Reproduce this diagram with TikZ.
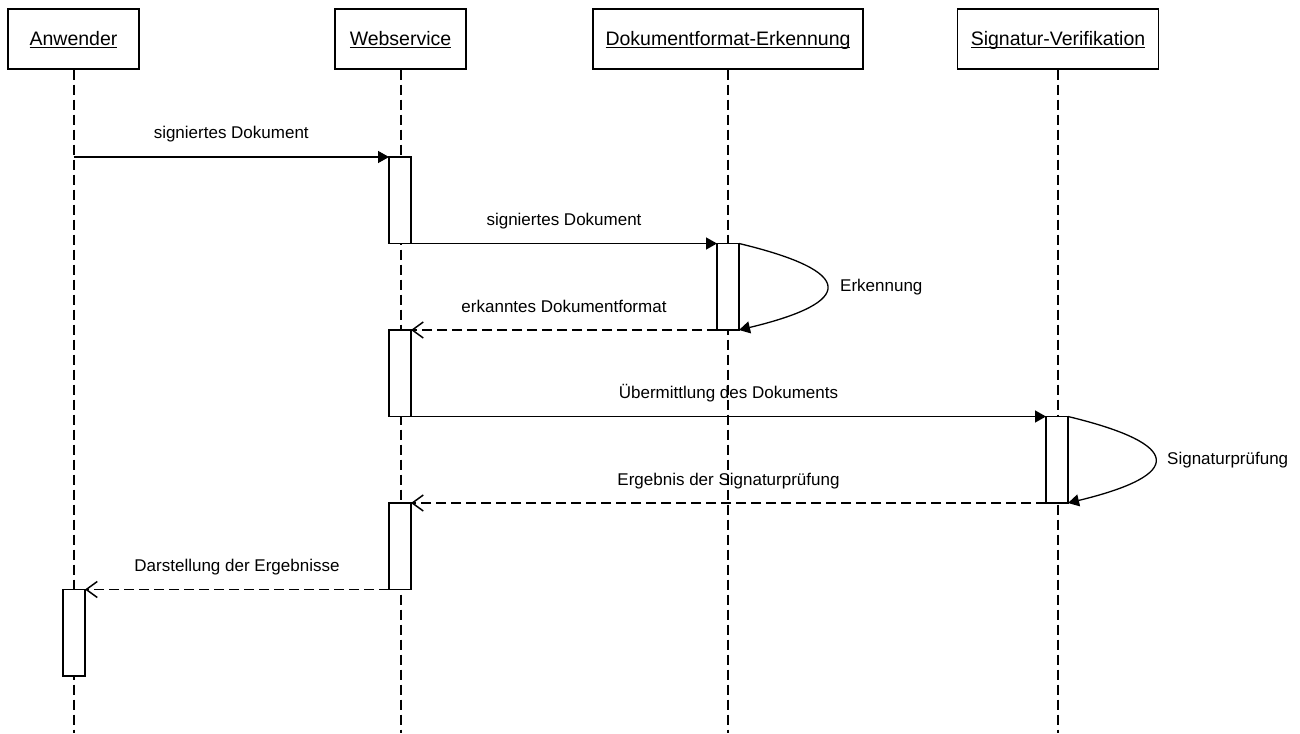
\documentclass[tikz,border=0pt]{standalone}
\usepackage{fontspec}
\setmainfont{Liberation Sans}
\usetikzlibrary{arrows.meta}
\newcommand{\ultext}[1]{\setbox0\hbox{#1}\rlap{\rule[-2.5pt]{\wd0}{1pt}}\box0}

\begin{document}
\begin{tikzpicture}[x=1pt,y=-1pt]
\tikzstyle{every node}+=[inner sep=0pt]
\tikzstyle{head}=[draw=black, line width=1.3pt, fill=white, minimum height=60pt, text height=14pt, text depth=0pt, font=\fontsize{19.5}{23}\selectfont]
\tikzstyle{act}=[draw=black, line width=1.3pt, fill=white, outer sep=0pt, minimum width=22pt, minimum height=86.5pt]
\tikzstyle{lifeline}=[black, line width=2pt, dash pattern=on 10pt off 5pt]
\tikzstyle{sync}=[black, line width=1.3pt, -{Triangle[length=11pt,width=12pt]}]
\tikzstyle{reply}=[black, line width=1.5pt, dash pattern=on 10pt off 5pt, -{Straight Barb[length=11pt,width=16pt]}]
\tikzstyle{msglabel}=[midway, anchor=base, yshift=18pt, font=\fontsize{17}{20}\selectfont]
\tikzstyle{looplabel}=[anchor=west, font=\fontsize{17}{20}\selectfont]
\useasboundingbox (0,0) rectangle (1300,733);

% objects
\node[head, minimum width=131pt] (anw) at (73.5,39) {\ultext{Anwender}};
\node[head, minimum width=131pt] (web) at (400.5,39) {\ultext{Webservice}};
\node[head, minimum width=270pt] (dok) at (728,39) {\ultext{Dokumentformat-Erkennung}};
\node[head, minimum width=201pt] (sig) at (1058,39) {\ultext{Signatur-Verifikation}};

% lifelines
\foreach \obj in {anw,web,dok,sig}
  \draw[lifeline] (\obj.south) -- (\obj.south |- 0,733);

% activations
\node[act] (w1) at (400,200.25) {};
\node[act] (d1) at (728,286.75) {};
\node[act] (w2) at (400,373.25) {};
\node[act] (s1) at (1057,459.75) {};
\node[act] (w3) at (400,546.25) {};
\node[act] (a1) at (74,632.75) {};

% messages
\draw[sync] (anw.south |- w1.north west) -- node[msglabel] (m1) {signiertes Dokument} (w1.north west);
\draw[sync] (w1.south east) -- node[msglabel] (m2) {signiertes Dokument} (w1.south east -| d1.west);
\draw[sync] (d1.north east) .. controls +(117,28) and +(117,-28) .. (d1.south east);
\node[looplabel] (erk) at ([xshift=101pt]d1.east) {Erkennung};
\draw[reply] (d1.south west) -- node[msglabel] (m3) {erkanntes Dokumentformat} (w2.north east);
\draw[sync] (w2.south east) -- node[msglabel] (m4) {Übermittlung des Dokuments} (w2.south east -| s1.west);
\draw[sync] (s1.north east) .. controls +(116,28) and +(116,-28) .. (s1.south east);
\node[looplabel] (sigp) at ([xshift=99pt]s1.east) {Signaturprüfung};
\draw[reply] (s1.south west) -- node[msglabel] (m5) {Ergebnis der Signaturprüfung} (w3.north east);
\draw[reply] (w3.south west) -- node[msglabel] (m6) {Darstellung der Ergebnisse} (a1.north east);
\end{tikzpicture}
\end{document}
